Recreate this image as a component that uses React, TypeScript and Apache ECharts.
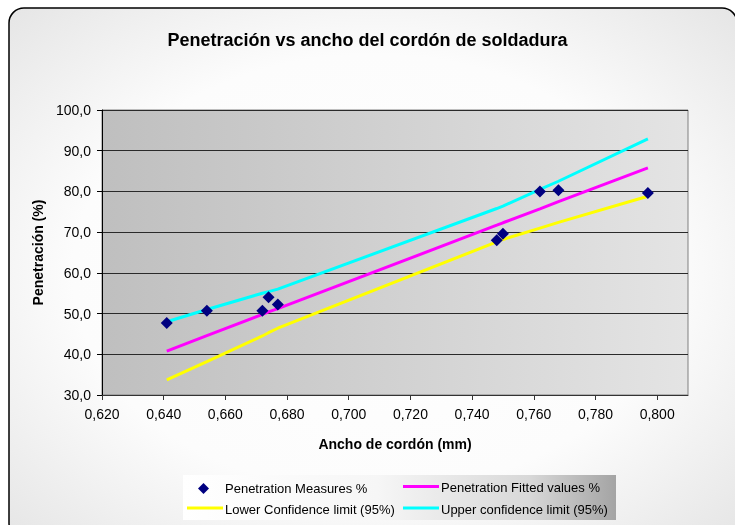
import { useEffect, useRef } from 'react';
import * as echarts from 'echarts';

const widthMm = [0.641, 0.654, 0.672, 0.674, 0.677, 0.748, 0.75, 0.762, 0.768, 0.797];
const measured = [47.7, 50.7, 50.7, 54.0, 52.2, 68.0, 69.6, 80.0, 80.3, 79.6];
const fitted = [40.8, 44.6, 49.8, 50.4, 51.2, 71.7, 72.3, 75.7, 77.5, 85.8];
const lowerCL = [33.7, 38.2, 44.5, 45.3, 46.4, 67.6, 68.2, 71.0, 72.4, 78.8];
const upperCL = [48.0, 51.0, 55.0, 55.4, 56.0, 75.8, 76.4, 80.5, 82.5, 92.9];
const xTicks = [0.62, 0.64, 0.66, 0.68, 0.7, 0.72, 0.74, 0.76, 0.78, 0.8];

const titleText = 'Penetración vs ancho del cordón de soldadura';
const xName = 'Ancho de cordón (mm)';
const yName = 'Penetración (%)';
const names = [
  'Penetration Measures %',
  'Penetration Fitted values %',
  'Lower Confidence limit (95%)',
  'Upper confidence limit (95%)',
];

const FONT = 'Arial, "Liberation Sans", Helvetica, sans-serif';

export default function App() {
  const ref = useRef<HTMLDivElement>(null);
  useEffect(() => {
    if (!ref.current) return;
    const chart = echarts.init(ref.current, null, { renderer: 'svg' });
    const pairs = (ys: number[]) => widthMm.map((x, i) => [x, ys[i]]);
    const legendX = 183;
    const legendY = 475;
    chart.setOption({
      animation: false,
      textStyle: { fontFamily: FONT },
      title: {
        text: titleText,
        left: 'center',
        top: 31,
        padding: 0,
        textStyle: { fontFamily: FONT, fontSize: 18, fontWeight: 'bold', color: '#000' },
      },
      graphic: [
        {
          type: 'rect',
          z: -10,
          zlevel: 0,
          silent: true,
          shape: { x: 9, y: 8, width: 728, height: 530, r: 15 },
          style: {
            fill: {
              type: 'radial',
              x: 0.5,
              y: 0.5,
              r: 0.75,
              colorStops: [
                { offset: 0, color: '#ffffff' },
                { offset: 0.55, color: '#fcfcfc' },
                { offset: 1, color: '#e2e2e2' },
              ],
            },
            stroke: '#000',
            lineWidth: 1.5,
          },
        },
        {
          type: 'group',
          left: legendX,
          top: legendY,
          children: [
            {
              type: 'rect',
              shape: { x: 0, y: 0, width: 433, height: 45 },
              style: {
                fill: {
                  type: 'linear',
                  x: 0,
                  y: 0,
                  x2: 1,
                  y2: 0,
                  colorStops: [
                    { offset: 0, color: '#ffffff' },
                    { offset: 0.45, color: '#f6f6f6' },
                    { offset: 0.8, color: '#d8d8d8' },
                    { offset: 1, color: '#a4a4a4' },
                  ],
                },
              },
            },
            {
              type: 'polygon',
              shape: { points: [[20.5, 8], [26, 13.5], [20.5, 19], [15, 13.5]] },
              style: { fill: '#000080' },
            },
            {
              type: 'text',
              x: 42,
              y: 13.5,
              style: { text: names[0], font: `13px ${FONT}`, fill: '#000', verticalAlign: 'middle' },
            },
            {
              type: 'line',
              shape: { x1: 220, y1: 11.5, x2: 256, y2: 11.5 },
              style: { stroke: '#ff00ff', lineWidth: 3 },
            },
            {
              type: 'text',
              x: 258,
              y: 12.5,
              style: { text: names[1], font: `13px ${FONT}`, fill: '#000', verticalAlign: 'middle' },
            },
            {
              type: 'line',
              shape: { x1: 4, y1: 33, x2: 40, y2: 33 },
              style: { stroke: '#ffff00', lineWidth: 3 },
            },
            {
              type: 'text',
              x: 42,
              y: 34,
              style: { text: names[2], font: `13px ${FONT}`, fill: '#000', verticalAlign: 'middle' },
            },
            {
              type: 'line',
              shape: { x1: 220, y1: 33, x2: 256, y2: 33 },
              style: { stroke: '#00ffff', lineWidth: 3 },
            },
            {
              type: 'text',
              x: 258,
              y: 34,
              style: { text: names[3], font: `13px ${FONT}`, fill: '#000', verticalAlign: 'middle' },
            },
          ],
        },
      ],
      grid: {
        left: 102,
        top: 110,
        right: 47,
        bottom: 130,
        show: true,
        borderColor: '#808080',
        borderWidth: 1,
        backgroundColor: {
          type: 'linear',
          x: 0,
          y: 0,
          x2: 1,
          y2: 0,
          colorStops: [
            { offset: 0, color: '#bfbfbf' },
            { offset: 1, color: '#e4e4e4' },
          ],
        },
      },
      xAxis: {
        type: 'value',
        min: 0.62,
        max: 0.81,
        interval: 0.02,
        name: xName,
        nameLocation: 'middle',
        nameGap: 42,
        nameTextStyle: { fontFamily: FONT, fontSize: 14, fontWeight: 'bold', color: '#000' },
        axisLine: { show: true, onZero: false, lineStyle: { color: '#333', width: 1 } },
        axisTick: {
          show: true,
          length: 5,
          inside: false,
          customValues: xTicks,
          lineStyle: { color: '#333' },
        },
        axisLabel: {
          margin: 12,
          fontSize: 14,
          fontFamily: FONT,
          color: '#000',
          customValues: xTicks,
          formatter: (v: number) => v.toFixed(3).replace('.', ','),
        },
        splitLine: { show: false },
      },
      yAxis: {
        type: 'value',
        min: 30,
        max: 100,
        interval: 10,
        name: yName,
        nameLocation: 'middle',
        nameGap: 55,
        nameRotate: 90,
        nameTextStyle: { fontFamily: FONT, fontSize: 14, fontWeight: 'bold', color: '#000' },
        axisLine: { show: true, lineStyle: { color: '#000', width: 1 } },
        axisTick: { show: true, length: 5, inside: false, lineStyle: { color: '#000' } },
        axisLabel: {
          margin: 11,
          fontSize: 14,
          fontFamily: FONT,
          color: '#000',
          formatter: (v: number) => v.toFixed(1).replace('.', ','),
        },
        splitLine: { show: true, lineStyle: { color: '#2a2a2a', width: 1 } },
      },
      series: [
        {
          name: names[1],
          type: 'line',
          data: pairs(fitted),
          showSymbol: false,
          symbol: 'none',
          lineStyle: { color: '#ff00ff', width: 3 },
          z: 2,
        },
        {
          name: names[2],
          type: 'line',
          data: pairs(lowerCL),
          showSymbol: false,
          symbol: 'none',
          lineStyle: { color: '#ffff00', width: 3 },
          z: 2,
        },
        {
          name: names[3],
          type: 'line',
          data: pairs(upperCL),
          showSymbol: false,
          symbol: 'none',
          lineStyle: { color: '#00ffff', width: 3 },
          z: 2,
        },
        {
          name: names[0],
          type: 'scatter',
          data: pairs(measured),
          symbol: 'diamond',
          symbolSize: 12,
          itemStyle: { color: '#000080', opacity: 1 },
          z: 5,
        },
      ],
    });
    return () => chart.dispose();
  }, []);
  return (
    <div
      ref={ref}
      style={{ position: 'fixed', left: 0, top: 0, width: 735, height: 525 }}
    />
  );
}
